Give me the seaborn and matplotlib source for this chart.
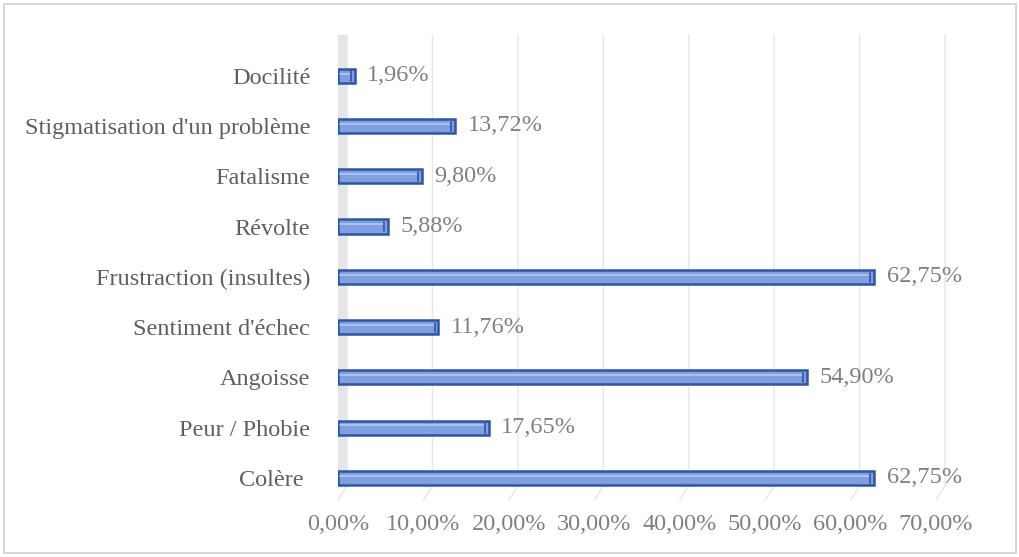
import matplotlib
matplotlib.use("Agg")
import matplotlib.pyplot as plt
import matplotlib.transforms as mtransforms
from matplotlib.patches import Rectangle
from matplotlib.lines import Line2D
import seaborn as sns
import pandas as pd

# categories from top to bottom, as in the chart
categories = ["Docilité", "Stigmatisation d'un problème", "Fatalisme", "Révolte",
              "Frustraction (insultes)", "Sentiment d'échec", "Angoisse",
              "Peur / Phobie", "Colère "]
values = [1.96, 13.72, 9.80, 5.88, 62.75, 11.76, 54.90, 17.65, 62.75]
xticks = [0, 10, 20, 30, 40, 50, 60, 70]

df = pd.DataFrame({"cat": categories, "val": values})

sns.set_theme(style="white")
plt.rcParams["font.family"] = ["Liberation Serif", "DejaVu Serif"]
grey = "#808080"
fs = 17.5

fig = plt.figure(figsize=(10.2, 5.57), dpi=100)
ax = fig.add_axes([338 / 1020, 1 - 500 / 557, (936 - 338) / 1020, 465 / 557])

# left wall
ax.add_patch(Rectangle((0, 0.03), 0.014, 0.97, transform=ax.transAxes,
                       color="#e6e6e6", zorder=0, clip_on=False))

sns.barplot(data=df, x="val", y="cat", order=categories, color="#7f9fe0",
            edgecolor="#2f55a0", linewidth=1.8, width=0.28, saturation=1, ax=ax)

# simple 3D look: light top stripe and darker end cap on each bar
for p in list(ax.patches):
    if not isinstance(p, Rectangle) or p.get_height() > 0.5:
        continue
    x0, y0 = p.get_x(), p.get_y()
    w, h = p.get_width(), p.get_height()
    ax.plot([x0 + 0.25, x0 + w - 0.5], [y0 + h * 0.35] * 2, color="#b3c7f0", lw=1.2, zorder=3)
    ax.plot([x0 + w - 0.45] * 2, [y0 + h * 0.2, y0 + h * 0.85], color="#2f55a0", lw=1.2, zorder=3)

labels = [f"{v:.2f}%".replace(".", ",") for v in values]
ax.bar_label(ax.containers[0], labels=labels, padding=9, color=grey, fontsize=fs)

ax.set_xlim(0, 70)
ax.set_ylim(8.44, -0.81)
ax.set_xticks(xticks)
ax.set_xticklabels([f"{t:.2f}%".replace(".", ",") for t in xticks])
ax.tick_params(axis="x", colors=grey, labelsize=fs, pad=10, length=0)
ax.tick_params(axis="y", colors="#5f5f5f", labelsize=fs, pad=20, length=0)
ax.set_xlabel("")
ax.set_ylabel("")
sns.despine(ax=ax, left=True, bottom=True)

# back-wall gridlines with a short diagonal onto the floor (pixel coords)
fig.canvas.draw()
ident = mtransforms.IdentityTransform()
y_top = ax.transAxes.transform((0, 1))[1]
y_bot = ax.transAxes.transform((0, 0.03))[1]
y_floor = ax.transAxes.transform((0, 0))[1]
for t in xticks:
    xb = ax.transData.transform((t, 0))[0]
    ax.add_artist(Line2D([xb + 9, xb + 9, xb], [y_top, y_bot, y_floor], color="#e6e6e6",
                         lw=1, transform=ident, zorder=0.5, clip_on=False))

# figure border
fig.patches.append(Rectangle((4 / 1020, 4 / 557), 1 - 8 / 1020, 1 - 8 / 557,
                             transform=fig.transFigure, fill=False,
                             edgecolor="#d0d0d0", lw=1.2))

fig.savefig("out.png", dpi=100)
